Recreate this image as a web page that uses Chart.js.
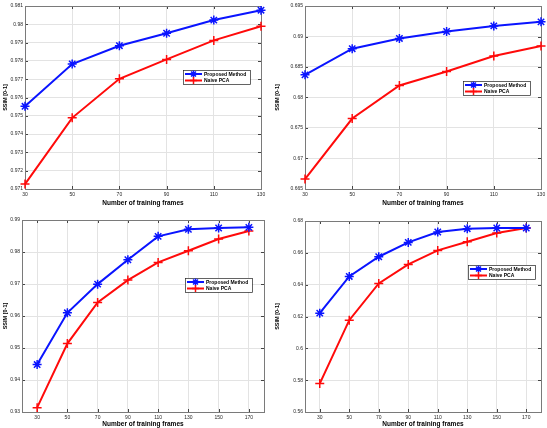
<!DOCTYPE html>
<html><head><meta charset="utf-8">
<script src="https://cdn.jsdelivr.net/npm/chart.js@4.4.1/dist/chart.umd.min.js"></script>
<style>
html,body{margin:0;padding:0;background:#fff;}
#wrap{position:relative;width:547px;height:428px;background:#fff;}
#wrap canvas{position:absolute;left:0;top:0;}
</style></head><body>
<div id="wrap">
<canvas id="c1" width="547" height="428"></canvas>
<canvas id="c2" width="547" height="428"></canvas>
<canvas id="c3" width="547" height="428"></canvas>
<canvas id="c4" width="547" height="428"></canvas>
</div>
<script>
// ---- data ----
const seriesNames = ['Proposed Method', 'Naive PCA'];
const xTitle = 'Number of training frames';
const yTitle = 'SSIM [0-1]';

const frames1 = [30, 50, 70, 90, 110, 130];
const proposed1 = [0.97552, 0.97783, 0.97883, 0.97951, 0.98023, 0.98077];
const naive1    = [0.97127, 0.97489, 0.97702, 0.97808, 0.97912, 0.97989];
const yTicks1 = [0.971, 0.972, 0.973, 0.974, 0.975, 0.976, 0.977, 0.978, 0.979, 0.98, 0.981];

const frames2 = [30, 50, 70, 90, 110, 130];
const proposed2 = [0.68371, 0.68800, 0.68968, 0.69082, 0.69174, 0.69240];
const naive2    = [0.66662, 0.67655, 0.68198, 0.68426, 0.68681, 0.68843];
const yTicks2 = [0.665, 0.67, 0.675, 0.68, 0.685, 0.69, 0.695];

const frames3 = [30, 50, 70, 90, 110, 130, 150, 170];
const proposed3 = [0.94482, 0.96099, 0.96996, 0.97758, 0.98489, 0.98708, 0.98750, 0.98770];
const naive3    = [0.93136, 0.95139, 0.96423, 0.97122, 0.97675, 0.98040, 0.98405, 0.98656];
const yTicks3 = [0.93, 0.94, 0.95, 0.96, 0.97, 0.98, 0.99];

const frames4 = [30, 50, 70, 90, 110, 130, 150, 170];
const proposed4 = [0.6221, 0.64518, 0.65755, 0.66657, 0.67308, 0.67518, 0.6756, 0.6756];
const naive4    = [0.57784, 0.6177, 0.64077, 0.65273, 0.66154, 0.66699, 0.67245, 0.6756];
const yTicks4 = [0.56, 0.58, 0.6, 0.62, 0.64, 0.66, 0.68];

// ---- style / layout ----
const FONT = '"Liberation Sans", Arial, sans-serif';
const BLUE = '#0a14ff';
const RED = '#ff0a0a';

function drawMarker(ctx, style, x, y, r) {
  ctx.beginPath();
  ctx.moveTo(x - r, y); ctx.lineTo(x + r, y);
  ctx.moveTo(x, y - r); ctx.lineTo(x, y + r);
  if (style === 'star') {
    const d = r * Math.SQRT1_2;
    ctx.moveTo(x - d, y - d); ctx.lineTo(x + d, y + d);
    ctx.moveTo(x - d, y + d); ctx.lineTo(x + d, y - d);
  }
  ctx.stroke();
}

const boxLegend = {
  id: 'boxLegend',
  afterDatasetsDraw(chart, args, opts) {
    const ca = chart.chartArea, ctx = chart.ctx;
    ctx.save();
    ctx.font = 'bold 5px ' + FONT;
    const ds = chart.data.datasets;
    const tw = Math.max(...ds.map(d => ctx.measureText(d.label).width));
    const lineLen = 17, rowH = 6.5, padX = 2;
    const w = Math.round(padX + lineLen + 2 + tw + 4);
    const h = Math.round(rowH * ds.length + 1);
    const x = Math.round(ca.right - opts.right - w), y = Math.round(ca.top + opts.top);
    ctx.fillStyle = '#fff';
    ctx.fillRect(x, y, w, h);
    ctx.strokeStyle = '#222';
    ctx.lineWidth = 0.7;
    ctx.strokeRect(x + 0.5, y + 0.5, w, h);
    ds.forEach((d, i) => {
      const cy = y + 4 + i * rowH;
      ctx.strokeStyle = d.borderColor;
      ctx.lineWidth = 2;
      ctx.beginPath();
      ctx.moveTo(x + padX, cy); ctx.lineTo(x + padX + lineLen, cy);
      ctx.stroke();
      ctx.lineWidth = 1.5;
      drawMarker(ctx, d.pointStyle, x + padX + lineLen / 2, cy, 3.5);
      ctx.fillStyle = '#000';
      ctx.textBaseline = 'middle';
      ctx.textAlign = 'left';
      ctx.fillText(d.label, x + padX + lineLen + 2, cy + 0.5);
    });
    ctx.restore();
  }
};

const boxTicks = {
  id: 'boxTicks',
  beforeDatasetsDraw(chart) {
    const {left, right, top, bottom} = chart.chartArea;
    const ctx = chart.ctx, ys = chart.scales.y, xs = chart.scales.x;
    ctx.save();
    ctx.strokeStyle = '#444';
    ctx.lineWidth = 1;
    ctx.beginPath();
    ys.ticks.forEach(t => {
      const py = Math.round(ys.getPixelForValue(t.value)) + 0.5;
      ctx.moveTo(left, py); ctx.lineTo(left + 3, py);
      ctx.moveTo(right - 3, py); ctx.lineTo(right, py);
    });
    xs.ticks.forEach((t, i) => {
      const px = Math.round(xs.getPixelForTick(i)) + 0.5;
      ctx.moveTo(px, bottom); ctx.lineTo(px, bottom - 3);
      ctx.moveTo(px, top); ctx.lineTo(px, top + 3);
    });
    ctx.stroke();
    ctx.strokeStyle = '#7a7a7a';
    ctx.strokeRect(Math.round(left) + 0.5, Math.round(top) + 0.5, Math.round(right - left), Math.round(bottom - top));
    ctx.restore();
  }
};

function makeChart(id, frames, proposed, naive, yTicks, lay, offset, legendPos) {
  const fmt = v => String(parseFloat(Number(v).toFixed(4)));
  return new Chart(document.getElementById(id), {
    type: 'line',
    data: {
      labels: frames.map(String),
      datasets: [
        { label: seriesNames[0], data: proposed, borderColor: BLUE, backgroundColor: BLUE,
          borderWidth: 2, pointStyle: 'star', pointRadius: 4.5, pointBorderWidth: 1.5,
          pointBorderColor: BLUE, tension: 0, fill: false },
        { label: seriesNames[1], data: naive, borderColor: RED, backgroundColor: RED,
          borderWidth: 2, pointStyle: 'cross', pointRadius: 4.5, pointBorderWidth: 1.5,
          pointBorderColor: RED, tension: 0, fill: false }
      ]
    },
    options: {
      responsive: false, animation: false, devicePixelRatio: 1,
      layout: { padding: { left: lay.yl, right: 547 - lay.r, top: lay.t, bottom: 428 - lay.xb } },
      plugins: { legend: { display: false }, tooltip: { enabled: false }, boxLegend: legendPos },
      scales: {
        x: {
          type: 'category', offset: offset,
          grid: { color: '#e3e3e3', lineWidth: 1, drawTicks: false, offset: false },
          border: { display: false },
          ticks: { autoSkip: false, maxRotation: 0, padding: 3, color: '#262626',
                   font: { family: FONT, size: 5 } },
          title: { display: true, text: xTitle, color: '#000', padding: 0,
                   font: { family: FONT, size: 6.5, weight: 'bold' } },
          afterFit(s) { s.height = lay.xb - lay.b; s.paddingLeft = 0; s.paddingRight = 0; }
        },
        y: {
          min: yTicks[0], max: yTicks[yTicks.length - 1],
          grid: { color: '#e3e3e3', lineWidth: 1, drawTicks: false },
          border: { display: false },
          ticks: { padding: 2, color: '#262626', font: { family: FONT, size: 5 }, callback: fmt },
          afterBuildTicks(s) { s.ticks = yTicks.map(v => ({ value: v })); },
          title: { display: true, text: yTitle, color: '#000', padding: { top: 2, bottom: 0 },
                   font: { family: FONT, size: 5.5, weight: 'bold' } },
          afterFit(s) { s.width = lay.l - lay.yl; s.paddingTop = 0; s.paddingBottom = 0; }
        }
      }
    },
    plugins: [boxTicks, boxLegend]
  });
}

makeChart('c1', frames1, proposed1, naive1, yTicks1, { yl: 0, l: 25, r: 261, t: 3, b: 189, xb: 207 }, false, { right: 11, top: 64 });
makeChart('c2', frames2, proposed2, naive2, yTicks2, { yl: 272, l: 305, r: 542, t: 3, b: 189, xb: 207 }, false, { right: 11, top: 75 });
makeChart('c3', frames3, proposed3, naive3, yTicks3, { yl: 0, l: 22, r: 264, t: 220, b: 412, xb: 428 }, true, { right: 12, top: 58 });
makeChart('c4', frames4, proposed4, naive4, yTicks4, { yl: 272, l: 305, r: 544, t: 221, b: 412, xb: 428 }, true, { right: 6, top: 44 });
</script>
</body></html>
